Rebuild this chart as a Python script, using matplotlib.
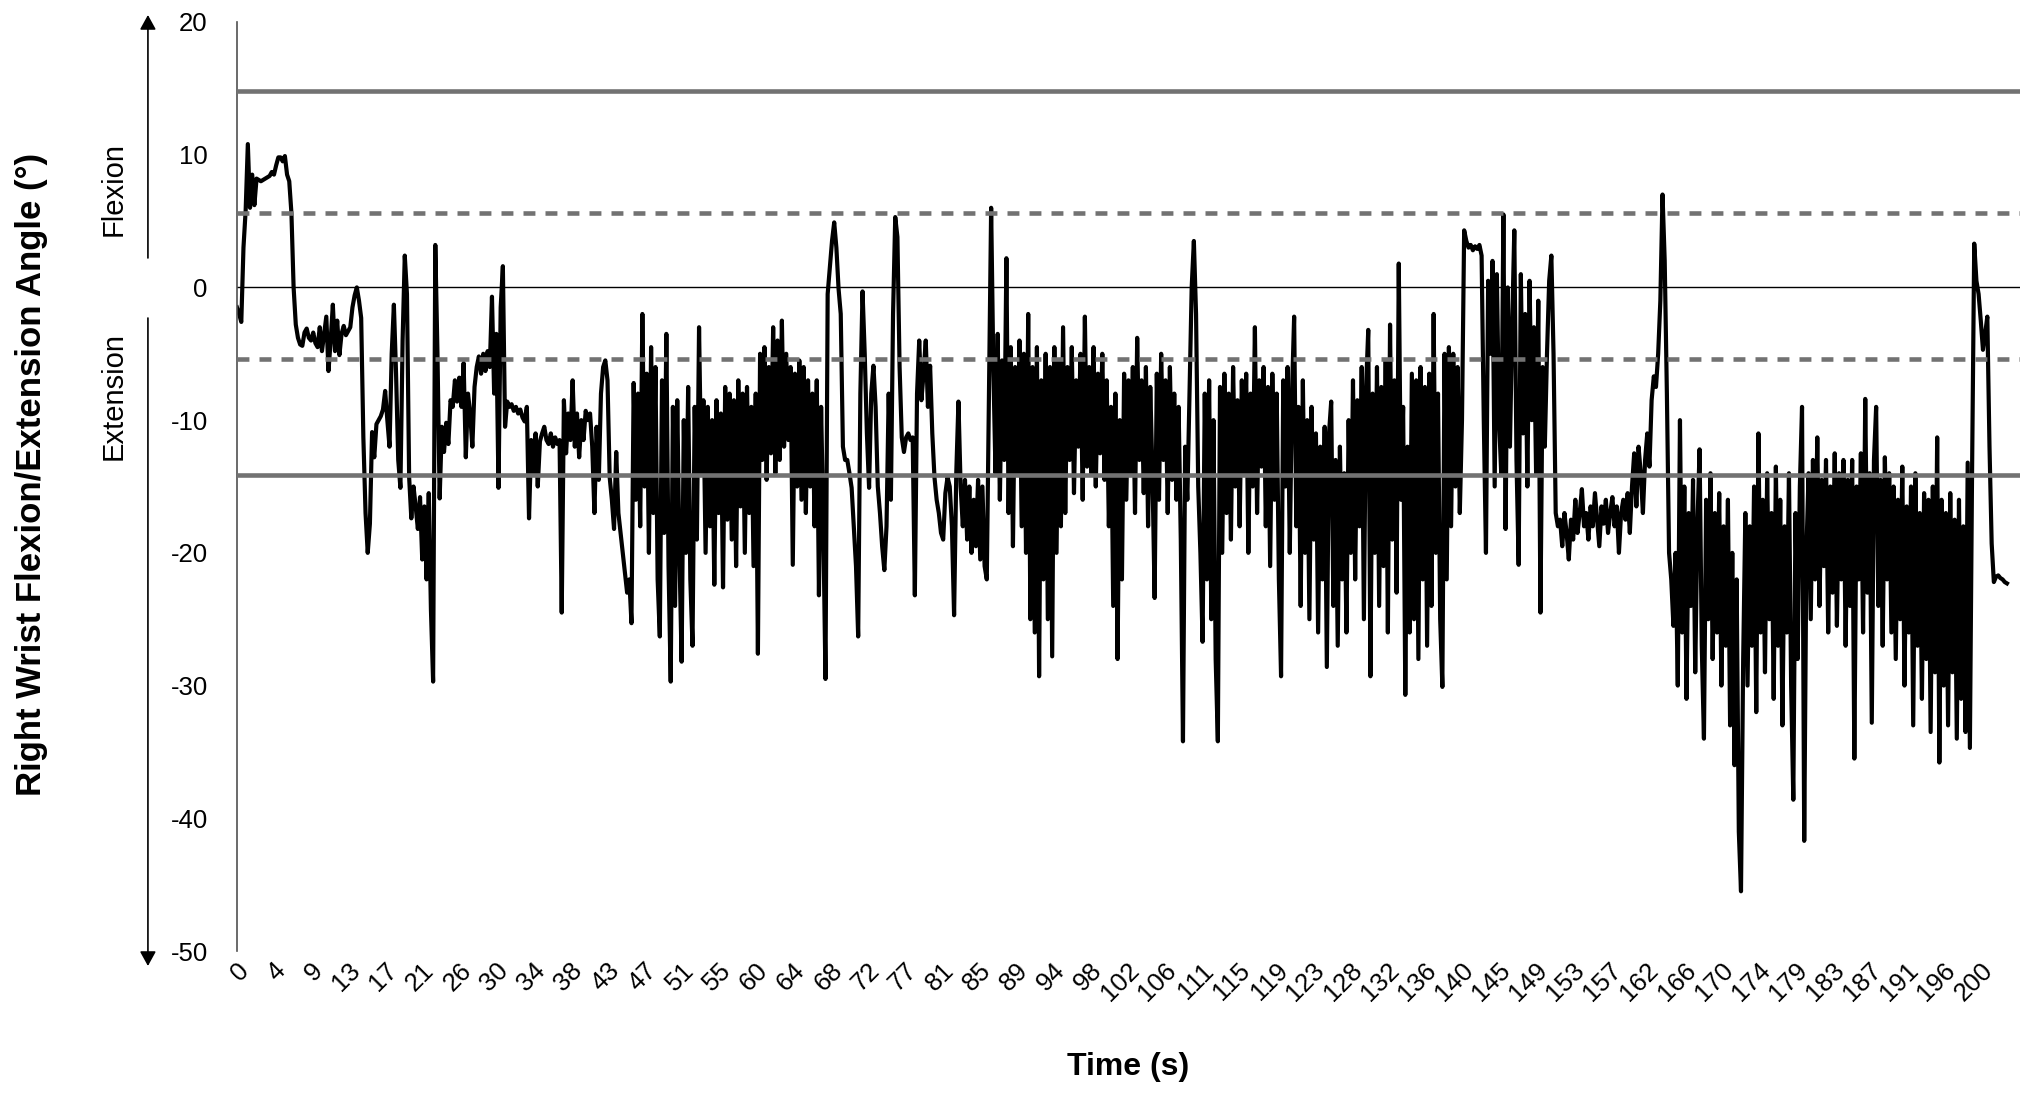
import numpy as np
import matplotlib
matplotlib.use("Agg")
import matplotlib.pyplot as plt
from matplotlib.transforms import ScaledTranslation

plt.rcParams["font.family"] = ["Liberation Sans", "DejaVu Sans"]

# ------------------------------------------------------------------ #
# Wrist angle (deg), every 0.25 s
# ------------------------------------------------------------------ #
DT = 0.25

seg_000 = [
    -1.5, -2.0, -2.6, 3.0, 5.8, 10.8, 6.0, 8.5, 6.2, 8.2, 8.1, 8.0, 8.1, 8.2, 8.3, 8.4, 8.7, 8.5, 9.2, 9.8,
    9.8, 9.5, 9.9, 8.5, 8.0, 5.6, 0.0, -2.8, -3.8, -4.3, -4.4, -3.4, -3.1, -3.8, -4.0, -3.4, -4.2, -4.5, -3.0, -4.8,
    -3.5, -2.2, -6.3, -4.0, -1.3, -4.8, -2.5, -5.1, -3.5, -2.9, -3.6, -3.3, -3.0, -1.5, -0.6, 0.0, -1.0, -2.3, -11.3, -17.0,
    -20.0, -17.8, -10.9, -12.8, -10.3, -10.0, -9.7, -9.2, -7.8, -10.0, -12.0, -5.0, -1.3, -6.5, -13.0, -15.1, -4.0, 2.4, -0.5, -14.3,
]
seg_020 = [
    -17.4, -15.0, -16.5, -18.2, -15.8, -20.5, -16.5, -22.0, -15.5, -24.3, -29.7, 3.2, -5.0, -15.9, -10.5, -12.4, -10.2, -11.8, -8.5, -9.0,
    -7.0, -8.6, -6.8, -9.0, -5.7, -12.8, -8.0, -9.5, -12.0, -7.5, -6.0, -5.2, -6.5, -5.0, -6.3, -4.8, -6.0, -0.7, -8.0, -3.5,
    -15.1, -1.5, 1.6, -10.5, -8.6, -9.0, -8.8, -9.3, -9.0, -9.5, -9.2, -9.8, -10.1, -9.0, -17.4, -11.5, -14.0, -11.0, -15.0, -11.6,
    -11.0, -10.5, -11.5, -11.8, -11.0, -12.0, -11.3, -11.8, -11.5, -24.5, -8.5, -12.5, -9.5, -11.5, -7.0, -12.0, -9.5, -12.8, -10.0, -11.5,
]
seg_040 = [
    -9.3, -10.0, -9.5, -12.0, -17.0, -10.5, -14.5, -8.0, -6.0, -5.5, -7.0, -14.3, -16.0, -18.2, -12.4, -17.0, -18.5, -20.0, -21.5, -23.0,
    -22.0, -25.3, -7.2, -16.0, -8.0, -18.0, -2.0, -15.0, -6.5, -20.0, -4.5, -17.0, -6.0, -22.0, -26.3, -7.0, -18.5, -3.5, -21.0, -29.7,
    -9.0, -24.0, -8.5, -20.0, -28.2, -10.0, -20.0, -7.5, -22.0, -27.0, -9.0, -19.0, -3.0, -14.0, -8.5, -20.0, -9.0, -18.0, -10.0, -22.4,
    -8.5, -17.0, -9.5, -22.6, -7.5, -17.5, -8.0, -19.0, -8.5, -21.0, -7.0, -16.5, -8.0, -20.0, -7.5, -17.0, -9.0, -21.0, -8.0, -27.6,
]
seg_060 = [
    -5.0, -13.0, -4.5, -14.5, -6.0, -12.5, -3.0, -14.0, -4.0, -13.0, -2.5, -12.0, -5.0, -11.5, -6.0, -20.9, -6.5, -15.0, -5.5, -16.0,
    -6.0, -17.0, -7.0, -15.0, -8.0, -18.0, -7.0, -23.2, -9.0, -18.0, -29.5, -0.5, 1.5, 3.5, 4.9, 3.0, -0.1, -2.0, -12.0, -13.0,
    -13.0, -14.0, -15.1, -18.0, -21.0, -26.3, -8.0, -0.3, -5.0, -11.0, -15.1, -8.0, -5.9, -9.0, -15.0, -17.0, -19.5, -21.3, -18.0, -8.0,
    -16.0, -2.0, 5.3, 3.8, -6.0, -11.3, -12.4, -11.3, -11.0, -11.5, -11.3, -23.2, -8.0, -4.0, -8.5, -6.5, -4.0, -9.0, -5.9, -11.0,
]
seg_080 = [
    -14.3, -16.0, -17.0, -18.5, -19.0, -15.5, -14.3, -15.0, -18.0, -24.7, -14.0, -8.6, -15.0, -18.0, -14.5, -19.0, -15.0, -20.0, -16.0, -19.5,
    -14.5, -20.5, -15.0, -21.0, -22.0, -8.0, 6.0, -6.0, -14.0, -3.5, -16.0, -5.5, -13.0, 2.2, -17.0, -4.5, -19.5, -6.0, -14.0, -4.0,
    -18.0, -5.0, -20.0, -2.0, -25.0, -6.0, -26.0, -4.5, -29.3, -7.0, -22.0, -5.0, -25.0, -6.0, -27.8, -4.5, -20.0, -5.5, -18.0, -3.0,
    -17.0, -6.0, -13.0, -4.5, -15.5, -7.0, -12.0, -5.0, -16.0, -2.2, -13.5, -6.0, -14.0, -4.5, -15.0, -6.5, -12.5, -5.0, -14.5, -7.0,
]
seg_100 = [
    -18.0, -9.0, -24.0, -8.0, -28.0, -10.0, -22.0, -6.5, -16.0, -7.0, -14.0, -6.0, -17.0, -3.8, -13.0, -7.0, -15.5, -6.0, -18.0, -7.5,
    -14.0, -23.4, -6.5, -16.0, -5.0, -13.0, -7.0, -17.0, -6.0, -14.5, -8.0, -16.0, -9.0, -19.0, -34.2, -12.0, -16.0, -8.0, 0.0, 3.5,
    -2.0, -15.0, -20.0, -26.7, -8.0, -22.0, -7.0, -25.0, -10.0, -28.0, -34.2, -7.5, -20.0, -6.5, -17.0, -8.0, -19.0, -6.0, -15.0, -8.5,
    -18.0, -7.0, -14.0, -6.5, -20.0, -8.0, -15.0, -3.0, -17.0, -7.0, -13.5, -6.0, -18.0, -7.5, -21.0, -6.5, -16.0, -8.0, -22.0, -29.3,
]
seg_120 = [
    -7.0, -15.0, -6.0, -20.0, -8.0, -2.2, -18.0, -9.0, -24.0, -7.0, -20.0, -10.0, -25.0, -9.0, -19.0, -11.0, -26.0, -12.0, -22.0, -10.5,
    -28.6, -11.0, -8.6, -24.0, -13.0, -27.0, -12.0, -22.0, -14.0, -26.0, -10.0, -20.0, -7.0, -22.0, -8.5, -18.0, -6.0, -25.0, -7.5, -3.2,
    -29.3, -8.0, -20.0, -6.0, -24.0, -7.5, -21.0, -5.5, -26.0, -2.8, -19.0, -7.0, -23.0, 1.8, -16.0, -9.0, -30.7, -12.0, -26.0, -6.5,
    -25.0, -7.0, -28.0, -6.0, -22.0, -7.5, -27.0, -6.5, -24.0, -2.0, -20.0, -8.0, -25.0, -30.1, -5.0, -22.0, -4.5, -18.0, -5.0, -15.0,
]
seg_140 = [
    -6.0, -17.0, -10.0, 4.3, 3.5, 3.0, 3.2, 2.8, 3.1, 2.9, 3.2, 2.4, -10.0, -20.0, 0.5, -5.0, 2.0, -15.0, 1.0, -10.0,
    -14.0, 5.5, -18.2, 0.0, -12.0, -3.0, 4.3, -13.0, -20.9, 1.0, -11.0, -2.0, -15.0, 0.5, -10.0, -3.0, -14.0, -1.0, -24.5, -6.0,
    -12.0, -5.0, 0.5, 2.4, -5.0, -17.0, -18.0, -17.5, -19.5, -17.0, -18.5, -20.5, -17.5, -19.0, -16.0, -18.5, -17.0, -15.2, -18.0, -17.0,
    -19.0, -16.5, -18.0, -15.5, -17.5, -19.5, -16.5, -17.8, -16.0, -18.5, -17.0, -15.8, -18.0, -16.5, -20.0, -17.0, -16.0, -17.5, -15.5, -18.5,
]
seg_160 = [
    -15.0, -12.5, -16.5, -12.0, -14.0, -17.0, -13.0, -11.0, -13.5, -8.5, -6.7, -7.5, -5.0, -1.0, 7.0, 2.0, -8.0, -20.0, -22.0, -25.5,
    -20.0, -30.0, -10.0, -26.0, -15.0, -31.0, -17.0, -24.0, -14.5, -29.0, -18.0, -12.2, -27.0, -34.0, -16.0, -25.0, -14.0, -28.0, -17.0, -26.0,
    -15.5, -30.0, -18.0, -27.0, -16.0, -33.0, -20.0, -36.0, -22.0, -41.0, -45.5, -28.0, -17.0, -30.0, -18.0, -27.0, -15.0, -32.0, -11.0, -26.0,
    -16.0, -29.0, -14.0, -25.0, -17.0, -31.0, -13.5, -27.0, -16.0, -33.0, -18.0, -26.0, -14.0, -30.0, -38.6, -17.0, -28.0, -15.0, -9.0, -41.7,
]
seg_180 = [
    -20.0, -14.0, -25.0, -13.0, -22.0, -11.3, -24.0, -14.5, -21.0, -13.0, -26.0, -15.0, -23.0, -12.5, -25.5, -14.0, -22.0, -13.0, -27.0, -14.5,
    -24.0, -13.0, -35.5, -15.0, -22.0, -12.5, -26.0, -8.4, -23.0, -14.0, -32.8, -13.0, -9.0, -24.0, -14.5, -27.0, -12.8, -22.0, -14.0, -26.0,
    -15.0, -28.0, -16.0, -25.0, -13.5, -30.0, -16.5, -26.0, -15.0, -33.0, -14.0, -27.0, -17.0, -31.0, -15.5, -28.0, -16.0, -33.5, -15.0, -29.0,
    -11.3, -35.8, -16.0, -30.0, -17.0, -33.0, -15.5, -29.0, -17.5, -34.0, -16.0, -31.0, -18.0, -33.5, -13.2, -34.7, -14.0, 3.3, 0.5, -0.5,
]
seg_200 = [-2.5, -4.7, -3.5, -2.2, -12.0, -19.3, -22.2, -21.8, -21.7, -21.9, -22.0, -22.2, -22.3]

# reference lines (deg)
upper_limit = 14.8
upper_dashed = 5.6
lower_dashed = -5.4
lower_limit = -14.1

x_tick_labels = ["0", "4", "9", "13", "17", "21", "26", "30", "34", "38", "43", "47",
                 "51", "55", "60", "64", "68", "72", "77", "81", "85", "89", "94", "98",
                 "102", "106", "111", "115", "119", "123", "128", "132", "136", "140",
                 "145", "149", "153", "157", "162", "166", "170", "174", "179", "183",
                 "187", "191", "196", "200"]
y_ticks = [-50, -40, -30, -20, -10, 0, 10, 20]


def main():
    angle = np.array(seg_000 + seg_020 + seg_040 + seg_060 + seg_080
                     + seg_100 + seg_120 + seg_140 + seg_160 + seg_180 + seg_200)
    time_s = np.arange(len(angle)) * DT

    fig = plt.figure(figsize=(20.32, 10.94), dpi=100)
    ax = fig.add_axes([0.1166, 0.1307, 0.8775, 0.8492])

    gray = "#727272"
    ax.axhline(0, color="black", lw=1.0, zorder=1)
    ax.plot(time_s, angle, color="black", lw=3.0, zorder=2)
    ax.axhline(upper_limit, color=gray, lw=3.3, zorder=3)
    ax.axhline(lower_limit, color=gray, lw=3.3, zorder=3)
    for yv in (upper_dashed, lower_dashed):
        ax.axhline(yv, color=gray, lw=3.3, ls=(0, (2.6, 2.2)), zorder=3)

    ax.set_xlim(0, 204.5)
    ax.set_ylim(-50, 20)

    for side in ("top", "right", "bottom"):
        ax.spines[side].set_visible(False)
    ax.spines["left"].set_color("#505050")
    ax.spines["left"].set_linewidth(1.2)

    ax.set_yticks(y_ticks)
    ax.set_yticklabels([str(v) for v in y_ticks])
    ax.tick_params(axis="y", length=0, pad=21, labelsize=18.5)

    ax.set_xticks(np.linspace(0, 200, len(x_tick_labels)))
    ax.set_xticklabels(x_tick_labels, rotation=45, ha="right", va="center",
                       rotation_mode="anchor")
    ax.tick_params(axis="x", length=0, pad=11.5, labelsize=18.5)
    shift = ScaledTranslation(8 / 100, 0, fig.dpi_scale_trans)
    for lbl in ax.get_xticklabels():
        lbl.set_transform(lbl.get_transform() + shift)

    # flexion / extension direction markers
    arrow = dict(arrowstyle="-|>,head_length=0.4,head_width=0.22", color="black",
                 lw=1.2, mutation_scale=22, shrinkA=0, shrinkB=0)
    ax.annotate("", xy=(0.0728, 0.9863), xytext=(0.0728, 0.7642),
                xycoords="figure fraction", textcoords="figure fraction", arrowprops=arrow)
    ax.annotate("", xy=(0.0728, 0.1170), xytext=(0.0728, 0.7093),
                xycoords="figure fraction", textcoords="figure fraction", arrowprops=arrow)
    fig.text(0.0561, 1 - 189 / 1094, "Flexion", rotation=90, ha="center", va="center", fontsize=21)
    fig.text(0.0561, 1 - 396 / 1094, "Extension", rotation=90, ha="center", va="center", fontsize=21)

    fig.text(0.0157, 0.5663, "Right Wrist Flexion/Extension Angle (°)", rotation=90,
             ha="center", va="center", fontsize=25, fontweight="bold")
    fig.text(0.5551, 0.0247, "Time (s)", ha="center", va="center", fontsize=23, fontweight="bold")

    fig.savefig("out.png", dpi=100)


if __name__ == "__main__":
    main()
